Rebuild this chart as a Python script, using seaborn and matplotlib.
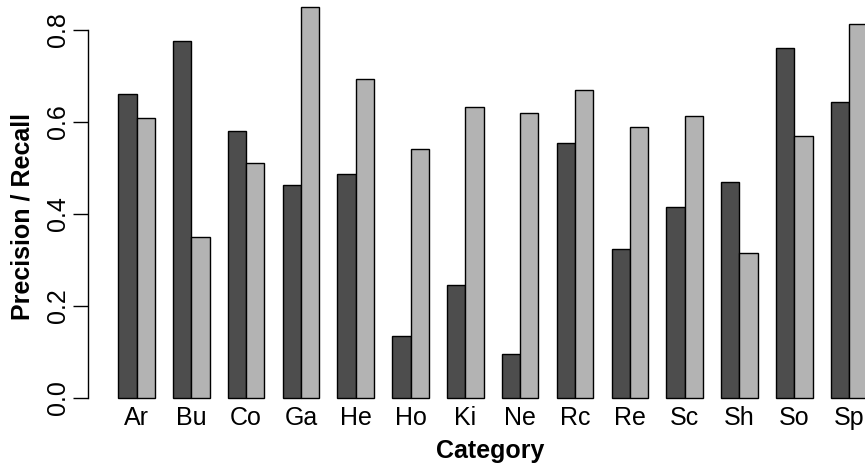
import pandas as pd
import numpy as np
import matplotlib
matplotlib.use("Agg")
import matplotlib.pyplot as plt
import seaborn as sns

# values
categories = ["Ar", "Bu", "Co", "Ga", "He", "Ho", "Ki", "Ne", "Rc", "Re", "Sc", "Sh", "So", "Sp"]
precision = [0.661, 0.775, 0.580, 0.464, 0.488, 0.134, 0.246, 0.096, 0.555, 0.325, 0.415, 0.470, 0.760, 0.643]
recall = [0.609, 0.350, 0.510, 0.851, 0.693, 0.542, 0.633, 0.620, 0.670, 0.589, 0.612, 0.316, 0.570, 0.812]
metrics = ["Precision", "Recall"]
bar_colors = ["#4d4d4d", "#b3b3b3"]
y_ticks = [0.0, 0.2, 0.4, 0.6, 0.8]

df = pd.DataFrame({
    "Category": categories * 2,
    "Metric": [metrics[0]] * len(categories) + [metrics[1]] * len(categories),
    "Value": precision + recall,
})

sns.set_style("ticks")
plt.rcParams["font.family"] = ["Liberation Sans", "DejaVu Sans"]
plt.rcParams["text.color"] = "black"
plt.rcParams["xtick.color"] = "black"
plt.rcParams["ytick.color"] = "black"
plt.rcParams["axes.edgecolor"] = "black"

W, H = 865, 468
fig = plt.figure(figsize=(W / 100, H / 100), dpi=100)
ax = fig.add_axes([88 / W, (H - 405) / H, (W - 88) / W, 405 / H])

sns.barplot(data=df, x="Category", y="Value", hue="Metric", hue_order=metrics,
            palette=bar_colors, width=2 / 3, gap=0, edgecolor="black",
            linewidth=1.0, saturation=1, legend=False, ax=ax)

ax.set_xlim(-0.885, 13.29)
ax.set_ylim(-0.0152, 0.8652)

for side in ["top", "right", "bottom"]:
    ax.spines[side].set_visible(False)
ax.spines["left"].set_bounds(0, 0.8)
ax.spines["left"].set_linewidth(1.0)

ax.set_yticks(y_ticks)
ax.set_yticklabels([f"{t:.1f}" for t in y_ticks], rotation=90, va="center", fontsize=18)
ax.tick_params(axis="y", length=11, width=1.0, pad=2, labelcolor="black")
ax.tick_params(axis="x", length=0, pad=1, labelsize=18, labelcolor="black")

ax.set_xlabel("")
ax.set_ylabel("")
fig.text(490 / W, 1 - 451 / H, "Category", ha="center", va="center",
         fontsize=18, fontweight="bold", color="black")
fig.text(23 / W, 1 - 216 / H, "Precision / Recall", ha="center", va="center",
         rotation=90, fontsize=18, fontweight="bold", color="black")

fig.savefig("out.png", dpi=100)
